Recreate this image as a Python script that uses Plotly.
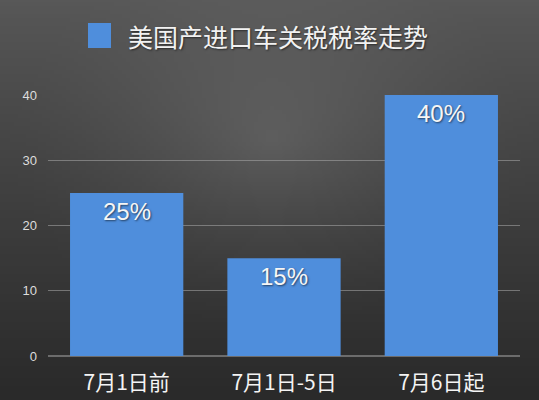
import base64, struct, zlib
import numpy as np
import plotly.graph_objects as go

categories = ["7月1日前", "7月1日-5日", "7月6日起"]
values = [25, 15, 40]
labels = ["25%", "15%", "40%"]
title_text = "美国产进口车关税税率走势"
y_ticks = [0, 10, 20, 30, 40]

FONT = "Noto Sans CJK SC"
BAR = "#4f8edc"
SHADOW = "1px 1px 2px rgba(0,0,0,0.55)"

# --- background gradient as an inline PNG ---
W, H = 135, 100
yy, xx = np.mgrid[0:H, 0:W]
ty = yy / (H - 1)
base = 88 - 46 * ty ** 0.9
cx, cy = W * 0.5, H * 0.35
r = np.sqrt(((xx - cx) / (W * 0.5)) ** 2 + ((yy - cy) / (H * 0.5)) ** 2)
glow = 24 * np.clip(1 - r, 0, 1) ** 1.5
v = np.clip(base + glow, 0, 255).astype(np.uint8)
raw = b"".join(b"\x00" + bytes(np.repeat(row, 3)) for row in v)

def chunk(t, data):
    c = struct.pack(">I", len(data)) + t + data
    return c + struct.pack(">I", zlib.crc32(t + data) & 0xFFFFFFFF)

png = b"\x89PNG\r\n\x1a\n" + chunk(b"IHDR", struct.pack(">IIBBBBB", W, H, 8, 2, 0, 0, 0)) \
    + chunk(b"IDAT", zlib.compress(raw)) + chunk(b"IEND", b"")
bg_uri = "data:image/png;base64," + base64.b64encode(png).decode()

fig = go.Figure()
fig.add_trace(go.Bar(
    x=categories, y=values,
    marker=dict(color=BAR, line=dict(width=0)),
    width=0.72, hoverinfo="skip", showlegend=False,
))

for c, v_, t in zip(categories, values, labels):
    fig.add_annotation(
        x=c, y=v_, xref="x", yref="y", text=t, showarrow=False,
        yanchor="top", yshift=-3,
        font=dict(family="Liberation Sans", size=24, color="#f6f6f6", shadow=SHADOW),
    )

# title with legend square
fig.add_shape(type="rect", xref="paper", yref="paper",
              x0=(88 - 48) / 472, x1=(111 - 48) / 472,
              y0=(356 - 48) / 261, y1=(356 - 23) / 261,
              fillcolor=BAR, line=dict(width=0))
fig.add_annotation(
    xref="paper", yref="paper", x=(126 - 48) / 472, y=(356 - 36) / 261,
    xanchor="left", yanchor="middle", text=title_text, showarrow=False,
    font=dict(family=FONT, size=25, color="#f2f2f2", shadow=SHADOW),
)

fig.update_layout(
    width=539, height=400,
    margin=dict(l=48, r=19, t=95, b=44, autoexpand=False),
    paper_bgcolor="#444444", plot_bgcolor="rgba(0,0,0,0)",
    images=[dict(source=bg_uri, xref="paper", yref="paper",
                 x=-48 / 472, y=1 + 95 / 261, sizex=539 / 472, sizey=400 / 261,
                 xanchor="left", yanchor="top", sizing="stretch", layer="below")],
    bargap=0.28,
    font=dict(family=FONT),
)
fig.update_xaxes(
    range=[-0.5, 2.5], showgrid=False, zeroline=False, showline=False,
    ticks="", ticklabelstandoff=12, automargin=False,
    tickfont=dict(family=FONT, size=21, color="#f4f4f4"),
)
fig.update_yaxes(
    range=[0, 40], tickvals=y_ticks, showgrid=True,
    gridcolor="rgba(170,170,170,0.55)", gridwidth=1,
    zeroline=True, zerolinecolor="rgba(150,150,150,0.6)",
    showline=False, ticks="", ticklabelstandoff=10, automargin=False,
    tickfont=dict(family="Liberation Sans", size=13, color="#dddddd"),
)

fig.write_html(
    "out.html",
    config={"displayModeBar": False},
    post_script="document.body.style.margin='0';document.body.style.overflow='hidden';",
)
